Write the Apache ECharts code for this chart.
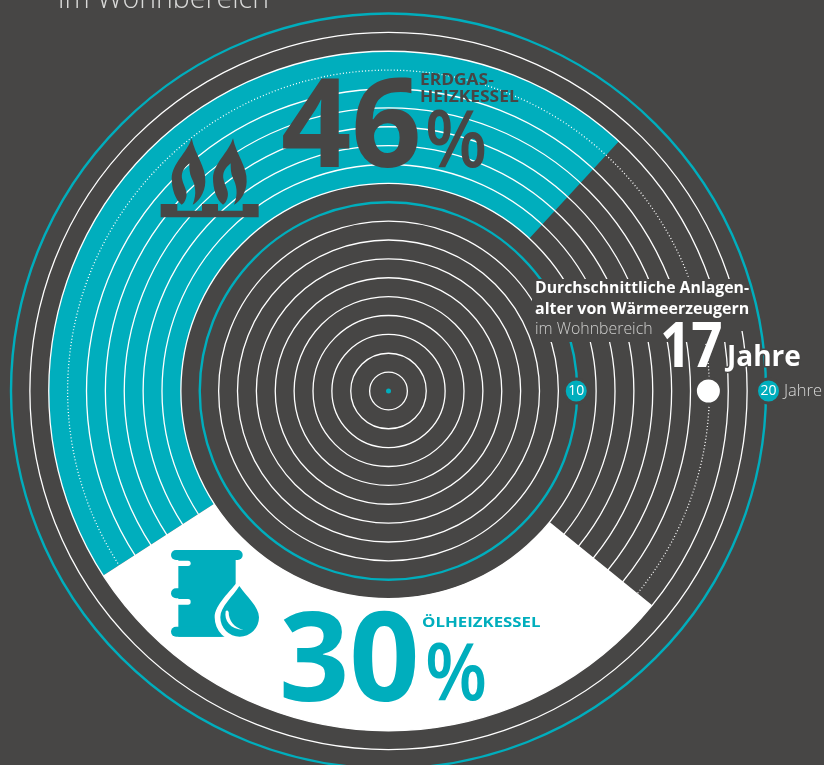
<!DOCTYPE html>
<html lang="de">
<head>
<meta charset="utf-8">
<title>Durchschnittliche Anlagenalter von Wärmeerzeugern</title>
<style>
  html, body { margin: 0; padding: 0; background: #474645; overflow: hidden; }
  #chart { width: 824px; height: 765px; }
</style>
<script src="https://cdn.jsdelivr.net/npm/echarts@6/dist/echarts.min.js"></script>
</head>
<body>
<div id="chart"></div>
<script>
// Anteile der Wärmeerzeuger im Wohnbereich, in Prozent
var shareNames = ['Erdgas-Heizkessel', 'Ölheizkessel', 'Sonstige'];
var shareValues = [46, 30, 24];
// Jahresringe und beschriftete Marken auf der Altersskala
var ringYears = [1, 2, 3, 4, 5, 6, 7, 8, 9, 10, 11, 12, 13, 14, 15, 16, 17, 18, 19, 20];
var scaleYears = [10, 20];
var averageAge = 17;
var titleLines = ['Durchschnittliche Anlagen-', 'alter von Wärmeerzeugern', 'im Wohnbereich'];

var BG = '#474645', TEAL = '#00aebd', WHITE = '#ffffff';
var SANS = '"Open Sans", "Noto Sans", sans-serif';
var CX = 388.5, CY = 391;

function label(text, x, y, font, fill, opts) {
  opts = opts || {};
  var style = { text: text, x: 0, y: 0, font: font, fill: fill, textVerticalAlign: 'middle' };
  if (opts.stroke) { style.stroke = opts.stroke; style.lineWidth = opts.lineWidth; }
  return { type: 'text', z: 30, silent: true, x: x, y: y, scaleX: opts.sx || 1, scaleY: opts.sy || 1, style: style };
}
function rrect(x, y, w, h, r, fill) {
  return { type: 'rect', shape: { x: x, y: y, width: w, height: h, r: r }, style: { fill: fill } };
}
function pathEl(d, fill, dx) {
  return { type: 'path', x: dx || 0, shape: { pathData: d }, style: { fill: fill } };
}

// Flamme mit Schlitz, Koordinaten im Raster der Icon-Gruppe
var FLAME = 'M155,235C165,285 198,320 196,365C195,400 175,425 158,434C172,400 165,375 155,355' +
  'C148,340 148,325 148,310C130,325 122,340 127,360C132,380 145,395 138,415' +
  'C135,425 130,432 125,434C105,420 95,385 95,355C97,310 140,280 155,235Z';
var BURNER = 'M62,432H112V452H186V432H234V452H308V432H356V472H62Z';
var DROP = 'M448,288C470,320 507,350 507,382A58,58 0 1 1 391,382C391,350 428,320 448,288Z';
var DROP_HALO = 'M448,268C475,305 522,345 522,382A74,74 0 1 1 374,382C374,345 421,305 448,268Z';
var GLINT = 'M407,364C402,392 420,418 460,420C432,412 416,392 416,366C414,360 409,360 407,364Z';

var chart = echarts.init(document.getElementById('chart'), null, { renderer: 'canvas' });
chart.setOption({
  animation: false,
  backgroundColor: BG,
  polar: { center: [CX, CY], radius: 377.5 },
  angleAxis: { show: false, type: 'value', min: 0, max: 360, startAngle: 0 },
  radiusAxis: { show: false, type: 'value', min: 0, max: 20 },
  series: [
    {
      // Anteilsband zwischen den Ringen 11 und 18
      type: 'pie',
      z: 2,
      silent: true,
      center: [CX, CY],
      radius: [207.6, 339.8],
      startAngle: 47.3,
      clockwise: false,
      label: { show: false },
      labelLine: { show: false },
      data: shareValues.map(function (v, i) {
        var colors = [TEAL, WHITE, 'rgba(0,0,0,0)'];
        return { name: shareNames[i], value: v, itemStyle: { color: colors[i], borderWidth: 0 } };
      })
    },
    {
      // Jahresringe: 10 und 20 türkis, das Durchschnittsalter gepunktet
      type: 'custom',
      coordinateSystem: 'polar',
      z: 3,
      silent: true,
      clip: false,
      encode: { radius: 0, angle: 1 },
      data: ringYears.map(function (y) { return [y, 0]; }),
      renderItem: function (params, api) {
        var year = api.value(0);
        var c = api.coord([0, 0]);
        var p = api.coord([year, 0]);
        var r = Math.abs(p[0] - c[0]);
        var scale = year % 10 === 0;
        var avg = year === averageAge;
        return {
          type: 'circle',
          shape: { cx: c[0], cy: c[1], r: r },
          style: {
            fill: null,
            stroke: scale ? TEAL : WHITE,
            lineWidth: scale ? 2.4 : 1.3,
            lineDash: avg ? [1, 2.2] : null
          }
        };
      }
    },
    {
      // Mittelpunkt
      type: 'scatter',
      coordinateSystem: 'polar',
      z: 4,
      silent: true,
      symbolSize: 5,
      itemStyle: { color: TEAL, opacity: 1 },
      data: [[0, 0]]
    },
    {
      // Skalenmarken 10 und 20
      type: 'scatter',
      coordinateSystem: 'polar',
      z: 5,
      silent: true,
      symbolSize: 24,
      itemStyle: { color: TEAL, opacity: 1, borderColor: BG, borderWidth: 3 },
      label: {
        show: true, position: 'inside', color: WHITE,
        fontFamily: SANS, fontSize: 14, fontWeight: 400,
        formatter: function (p) { return String(p.value[0]); }
      },
      data: scaleYears.map(function (y) {
        return { value: [y, 0], symbolOffset: y === 20 ? [2.5, 0] : [-1, 0] };
      })
    },
    {
      // Durchschnittsalter
      type: 'scatter',
      coordinateSystem: 'polar',
      z: 5,
      silent: true,
      symbolSize: 26,
      symbolOffset: [-1, 0],
      itemStyle: { color: WHITE, opacity: 1, borderColor: BG, borderWidth: 3 },
      data: [[averageAge, 0]]
    },
    {
      // Gasflammen auf dem Brenner und Ölfass mit Tropfen
      type: 'custom',
      coordinateSystem: 'none',
      z: 25,
      silent: true,
      data: [[0]],
      renderItem: function () {
        return {
          type: 'group',
          children: [
            {
              type: 'group', x: 140, y: 60, scaleX: 1 / 3, scaleY: 1 / 3,
              children: [pathEl(FLAME, BG), pathEl(FLAME, BG, 124), pathEl(BURNER, BG)]
            },
            {
              type: 'group', x: 90, y: 490, scaleX: 1 / 3, scaleY: 1 / 3,
              children: [
                rrect(265, 205, 172, 235, 0, TEAL),
                rrect(243, 180, 215, 30, 15, TEAL),
                rrect(243, 295, 60, 30, 15, TEAL),
                rrect(243, 410, 165, 30, 15, TEAL),
                rrect(235, 212, 67, 16, 8, WHITE),
                rrect(235, 327, 67, 17, 8, WHITE),
                pathEl(DROP_HALO, WHITE),
                pathEl(DROP, TEAL),
                pathEl(GLINT, WHITE)
              ]
            }
          ]
        };
      }
    }
  ],
  graphic: [
    // freigestellte Fläche hinter dem Titel
    { type: 'rect', z: 20, silent: true, shape: { x: 532, y: 279, width: 213, height: 52 }, style: { fill: BG } },
    { type: 'rect', z: 20, silent: true, shape: { x: 532, y: 330, width: 203, height: 12 }, style: { fill: BG } },

    label(titleLines[2], 58, 0, '300 28.5px ' + SANS, '#d9d9d8'),

    label(titleLines[0], 535, 288, 'bold 15.8px ' + SANS, WHITE),
    label(titleLines[1], 535, 309, 'bold 15.8px ' + SANS, WHITE, { sx: 1.012 }),
    label(titleLines[2], 535, 329, '300 15.9px ' + SANS, '#cfcfce'),
    label(String(averageAge), 660, 349, 'bold 63px ' + SANS, WHITE, { sx: 0.87 }),
    label('Jahre', 727, 358, 'bold 28px ' + SANS, WHITE, { stroke: BG, lineWidth: 3 }),
    label('Jahre', 784, 391, '300 16.5px ' + SANS, '#d9d9d8'),

    label(String(shareValues[0]), 281, 132, 'bold 123px ' + SANS, BG),
    label('%', 425, 144, '600 72px ' + SANS, BG, { sy: 1.1 }),
    label('ERDGAS-', 420, 81, 'bold 15.5px ' + SANS, BG, { sx: 1.12 }),
    label('HEIZKESSEL', 420, 98, 'bold 15.5px ' + SANS, BG, { sx: 1.12 }),

    label(String(shareValues[1]), 279, 666, 'bold 123px ' + SANS, TEAL),
    label('%', 425, 677, '600 72px ' + SANS, TEAL, { sy: 1.1 }),
    label('ÖLHEIZKESSEL', 422, 623, 'bold 14.5px ' + SANS, TEAL, { sx: 1.16 })
  ]
});
</script>
</body>
</html>
